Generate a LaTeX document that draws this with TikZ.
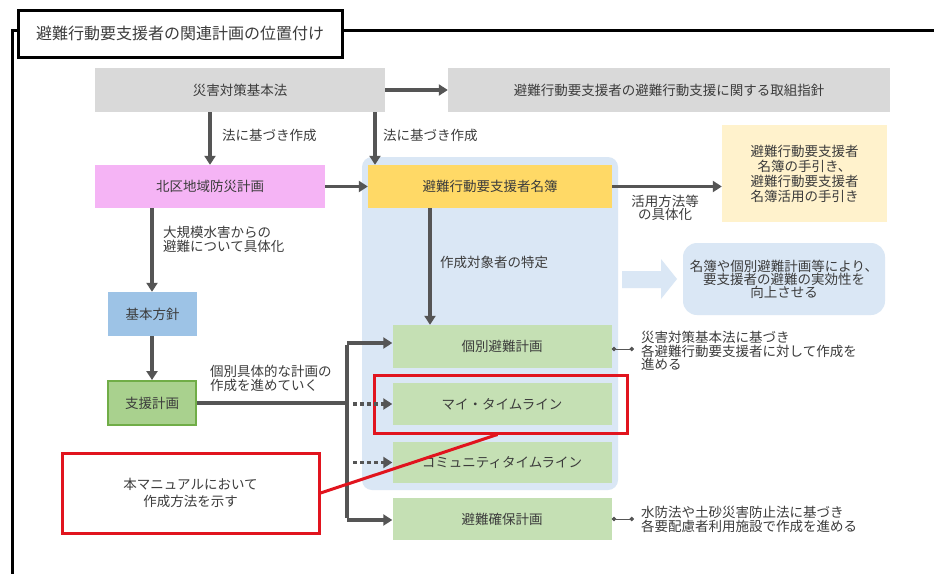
\documentclass[tikz,border=0pt]{standalone}
\usepackage{fontspec}
\setmainfont{Noto Sans CJK JP}
\usetikzlibrary{arrows.meta}
\definecolor{gbox}{RGB}{217,217,217}
\definecolor{pinkbox}{RGB}{245,180,245}
\definecolor{yelbox}{RGB}{255,217,102}
\definecolor{paleyel}{RGB}{255,242,204}
\definecolor{bluebox}{RGB}{157,195,230}
\definecolor{greenbox}{RGB}{169,209,142}
\definecolor{greenedge}{RGB}{112,173,71}
\definecolor{lgreen}{RGB}{197,224,180}
\definecolor{bluebg}{RGB}{218,231,245}
\definecolor{arrgray}{RGB}{85,85,85}
\definecolor{txt}{RGB}{60,60,60}
\definecolor{redline}{RGB}{225,20,30}
\tikzset{
  fbox/.style={inner sep=0pt, text=txt, font=\fontsize{13.5}{15}\selectfont, align=center},
  lbl/.style={inner sep=0pt, text=txt, font=\fontsize{13.5}{12}\selectfont},
  arr/.style={line width=3.5pt, draw=arrgray, -{Triangle[length=9pt,width=11pt]}},
  plainline/.style={line width=3.5pt, draw=arrgray},
  darr/.style={line width=3.5pt, draw=arrgray, dash pattern=on 3.5pt off 3.5pt, -{Triangle[length=9pt,width=11pt]}},
  dotline/.style={line width=0.9pt, draw=arrgray, {Circle[length=4.5pt]}-{Circle[length=4.5pt]}},
  redbox/.style={draw=redline, line width=3pt, fill=none, inner sep=0pt},
}
\begin{document}
\begin{tikzpicture}[x=1pt,y=-1pt]
\useasboundingbox (0,0) rectangle (934,573);
\fill[white] (0,0) rectangle (934,573);
% outer frame
\draw[line width=3pt, black] (12,575) -- (12,30) -- (936,30);
\node[draw=black, line width=3pt, fill=white, minimum width=324pt, minimum height=47pt, inner sep=0pt, text=txt, font=\fontsize{16}{18}\selectfont] (title) at (180,33.5) {避難行動要支援者の関連計画の位置付け};
% blue region
\fill[bluebg, rounded corners=10pt] (362,157) rectangle (618,490);
% block arrow
\fill[bluebg] (622,271) -- (661,271) -- (661,259) -- (677,279) -- (661,299) -- (661,288) -- (622,288) -- cycle;
\node[fbox, fill=bluebg, rounded corners=14pt, minimum width=202pt, minimum height=72pt, font=\fontsize{13.5}{13}\selectfont] (jikko) at (784,279) {名簿や個別避難計画等により、\\要支援者の避難の実効性を\\向上させる};
% boxes
\node[fbox, fill=gbox, minimum width=290pt, minimum height=44pt] (saigai) at (240,90) {災害対策基本法};
\node[fbox, fill=gbox, minimum width=442pt, minimum height=44pt] (shishin) at (669,90) {避難行動要支援者の避難行動支援に関する取組指針};
\node[fbox, fill=pinkbox, minimum width=230pt, minimum height=43pt] (hoku) at (210,186.5) {北区地域防災計画};
\node[fbox, fill=yelbox, minimum width=244pt, minimum height=43pt] (meibo) at (490,186.5) {避難行動要支援者名簿};
\node[fbox, fill=paleyel, minimum width=165pt, minimum height=97pt, font=\fontsize{13.5}{15}\selectfont] (tebiki) at (804.5,173.5) {避難行動要支援者\\名簿の手引き、\\避難行動要支援者\\名簿活用の手引き};
\node[fbox, fill=bluebox, minimum width=89pt, minimum height=44pt] (kihon) at (152.5,314) {基本方針};
\node[fbox, fill=greenbox, draw=greenedge, line width=2pt, minimum width=88pt, minimum height=44pt] (shien) at (152,403) {支援計画};
\node[fbox, fill=lgreen, minimum width=219pt, minimum height=43pt] (kobetsu) at (502,346.5) {個別避難計画};
\node[fbox, fill=lgreen, minimum width=219pt, minimum height=42pt] (my) at (502,404) {マイ・タイムライン};
\node[fbox, fill=lgreen, minimum width=219pt, minimum height=41pt] (comm) at (502,462.5) {コミュニティタイムライン};
\node[fbox, fill=lgreen, minimum width=219pt, minimum height=42pt] (kakuho) at (502,519) {避難確保計画};
\node[redbox, minimum width=253pt, minimum height=58pt] (myred) at (500.5,404) {};
\node[fbox, redbox, fill=white, minimum width=257pt, minimum height=80pt, font=\fontsize{13.5}{17}\selectfont] (manual) at (190.5,493) {本マニュアルにおいて\\作成方法を示す};
% labels
\node[lbl, anchor=west] (l1) at (222,135) {法に基づき作成};
\node[lbl, anchor=west] (l2) at (383,135) {法に基づき作成};
\node[lbl, align=center, font=\fontsize{13.5}{13}\selectfont] (l3) at (665,208) {活用方法等\\の具体化};
\node[lbl, align=left, anchor=north west, font=\fontsize{13.5}{14}\selectfont] (l4) at (163,226) {大規模水害からの\\避難について具体化};
\node[lbl, anchor=west] (l5) at (440,262) {作成対象者の特定};
\node[lbl, align=left, anchor=north west, font=\fontsize{13.5}{11}\selectfont] (l6) at (210,365) {個別具体的な計画の\\作成を進めていく};
\node[lbl, align=left, anchor=north west, font=\fontsize{13.5}{11.5}\selectfont] (n1) at (641,331) {災害対策基本法に基づき\\各避難行動要支援者に対して作成を\\進める};
\node[lbl, align=left, anchor=north west, font=\fontsize{13.5}{11.5}\selectfont] (n2) at (641,506) {水防法や土砂災害防止法に基づき\\各要配慮者利用施設で作成を進める};
% connectors
\coordinate (c1) at (210,0);
\coordinate (c2) at (375,0);
\coordinate (c3) at (430,0);
\coordinate (c4) at (152,0);
\draw[arr] (saigai.east) -- (shishin.west);
\draw[arr] (saigai.south -| c1) -- (hoku.north -| c1);
\draw[arr] (saigai.south -| c2) -- (meibo.north -| c2);
\draw[arr] (hoku.east) -- (meibo.west);
\draw[arr] (meibo.east) -- (tebiki.west |- meibo.east);
\draw[arr] (meibo.south -| c3) -- (kobetsu.north -| c3);
\draw[arr] (hoku.south -| c4) -- (kihon.north -| c4);
\draw[arr] (kihon.south -| c4) -- (shien.north -| c4);
\coordinate (vtop) at (347,343);
\coordinate (vmid) at (347,403);
\coordinate (vbot) at (347,520);
\coordinate (d1) at (353,404);
\coordinate (d2) at (353,462.5);
\draw[plainline] (shien.east) -- (vmid);
\draw[plainline, line cap=butt] ([yshift=-1.75pt]vtop) -- ([yshift=1.75pt]vbot);
\draw[arr] (vtop) -- (vtop -| kobetsu.west);
\draw[arr] (vbot) -- (vbot -| kakuho.west);
\draw[darr] (d1) -- (my.west);
\draw[darr] (d2) -- (comm.west);
\coordinate (e1) at (634,349);
\coordinate (e2) at (634,519);
\draw[dotline] (kobetsu.east |- e1) -- (e1);
\draw[dotline] (kakuho.east |- e2) -- (e2);
\draw[draw=redline, line width=3pt] (manual.east) -- ([xshift=-3pt]myred.south);
\end{tikzpicture}
\end{document}
